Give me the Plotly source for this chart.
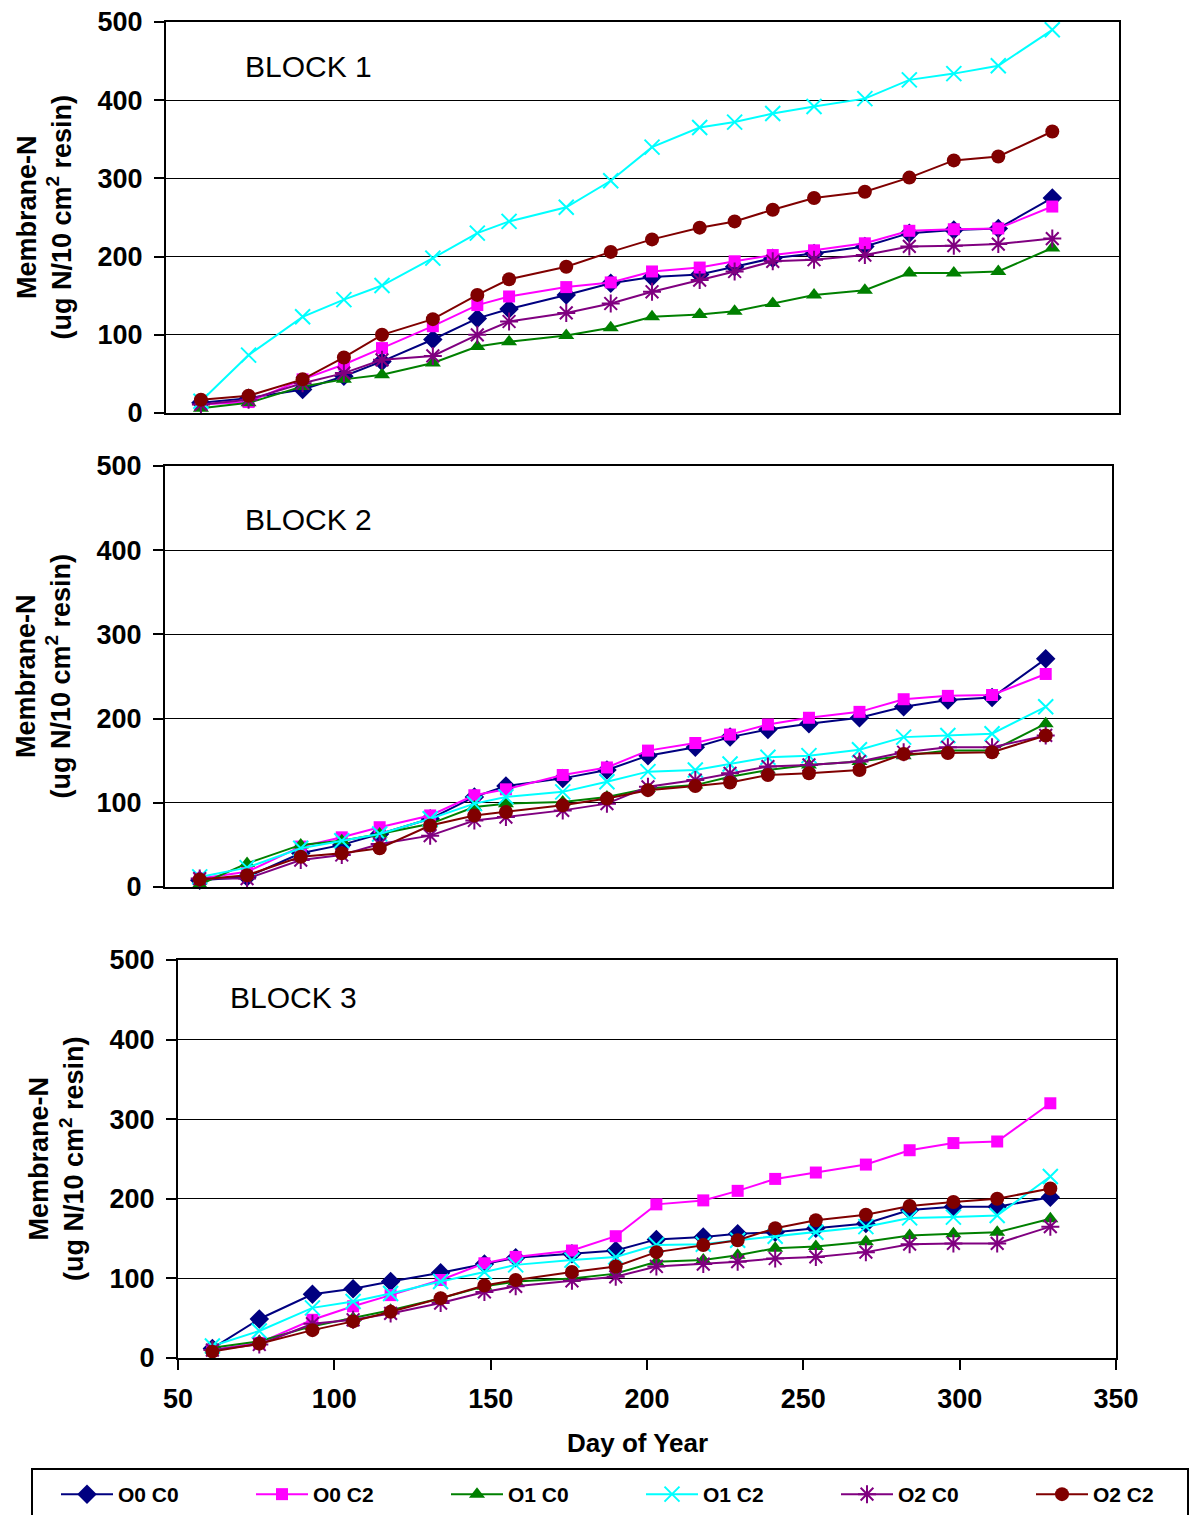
import plotly.graph_objects as go

# ---------------- data ----------------
days = [61, 76, 93, 106, 118, 134, 148, 158, 176, 190, 203, 218, 229, 241, 254, 270, 284, 298, 312, 329]

series_names = ["O0 C0", "O0 C2", "O1 C0", "O1 C2", "O2 C0", "O2 C2"]

# Block 1
b1_o0c0 = [13, 19, 30, 47, 66, 94, 121, 133, 151, 166, 174, 177, 187, 198, 204, 213, 230, 234, 236, 275]
b1_o0c2 = [11, 14, 43, 62, 83, 111, 138, 149, 161, 167, 181, 186, 194, 202, 208, 217, 233, 235, 236, 264]
b1_o1c0 = [6, 13, 34, 43, 49, 64, 85, 91, 99, 109, 123, 126, 130, 140, 151, 157, 179, 179, 181, 211]
b1_o1c2 = [15, 74, 123, 145, 163, 198, 230, 245, 263, 297, 340, 365, 372, 383, 392, 402, 426, 434, 444, 490]
b1_o2c0 = [11, 17, 38, 51, 68, 73, 100, 117, 128, 140, 155, 170, 181, 194, 196, 202, 213, 214, 216, 223]
b1_o2c2 = [17, 22, 43, 71, 100, 120, 151, 171, 187, 206, 222, 237, 245, 260, 275, 283, 301, 323, 328, 360]

# Block 2
b2_o0c0 = [8, 12, 40, 50, 63, 81, 107, 120, 129, 139, 156, 166, 178, 187, 194, 201, 214, 222, 225, 271]
b2_o0c2 = [10, 18, 48, 59, 71, 85, 109, 116, 133, 142, 162, 171, 181, 193, 201, 208, 223, 227, 228, 253]
b2_o1c0 = [3, 28, 50, 55, 63, 75, 95, 99, 101, 107, 117, 121, 131, 139, 145, 149, 156, 162, 162, 194]
b2_o1c2 = [12, 23, 46, 55, 63, 81, 99, 107, 113, 125, 137, 139, 146, 154, 156, 163, 178, 180, 182, 214]
b2_o2c0 = [10, 10, 32, 38, 51, 61, 79, 83, 91, 99, 119, 127, 135, 143, 145, 149, 160, 166, 166, 180]
b2_o2c2 = [9, 14, 36, 40, 46, 73, 85, 89, 97, 105, 115, 120, 124, 133, 135, 139, 158, 159, 160, 180]

# Block 3
b3_o0c0 = [12, 49, 80, 87, 96, 107, 118, 126, 131, 135, 149, 152, 156, 158, 163, 169, 186, 190, 190, 202]
b3_o0c2 = [10, 19, 48, 65, 79, 98, 119, 127, 135, 153, 193, 198, 210, 225, 233, 243, 261, 270, 272, 320]
b3_o1c0 = [13, 21, 40, 50, 60, 75, 90, 96, 100, 106, 121, 123, 129, 138, 140, 146, 154, 156, 158, 175]
b3_o1c2 = [15, 34, 63, 71, 81, 96, 108, 117, 123, 127, 142, 143, 148, 153, 158, 165, 176, 177, 179, 228]
b3_o2c0 = [10, 17, 43, 48, 56, 69, 83, 90, 97, 102, 115, 118, 121, 125, 127, 133, 143, 144, 144, 165]
b3_o2c2 = [8, 18, 35, 46, 58, 75, 91, 98, 108, 115, 133, 142, 148, 163, 173, 180, 191, 196, 200, 213]

blocks = [
    ("BLOCK 1", [b1_o0c0, b1_o0c2, b1_o1c0, b1_o1c2, b1_o2c0, b1_o2c2]),
    ("BLOCK 2", [b2_o0c0, b2_o0c2, b2_o1c0, b2_o1c2, b2_o2c0, b2_o2c2]),
    ("BLOCK 3", [b3_o0c0, b3_o0c2, b3_o1c0, b3_o1c2, b3_o2c0, b3_o2c2]),
]

y_ticks = [0, 100, 200, 300, 400, 500]
x_ticks = [50, 100, 150, 200, 250, 300, 350]

# ---------------- styles ----------------
colors = ["#000080", "#FF00FF", "#008000", "#00FFFF", "#800080", "#800000"]
symbols = ["diamond", "square", "triangle-up", "x-thin-open", "asterisk-open", "circle"]
sizes = [15, 12, 14, 15, 15, 14]

W, H = 1193, 1515
FONT = "Liberation Sans, Arial, sans-serif"

# pixel boxes of the three plot areas: (left, right, top, bottom)
boxes = [(166, 1119, 22, 413), (165, 1112, 466, 887), (178, 1116, 960, 1358)]
title_x = [44, 43, 56]
block_pos = [(243, 66), (243, 519), (228, 997)]

fig = go.Figure()
layout = dict(
    width=W, height=H,
    margin=dict(l=0, r=0, t=0, b=0, autoexpand=False),
    paper_bgcolor="white", plot_bgcolor="white",
    font=dict(family=FONT, color="black"),
    annotations=[],
    shapes=[],
)

for i, (label, data) in enumerate(blocks):
    n = i + 1
    xa = "x" if n == 1 else f"x{n}"
    ya = "y" if n == 1 else f"y{n}"
    l, r, t, b = boxes[i]
    for j, name in enumerate(series_names):
        fig.add_trace(go.Scatter(
            x=days, y=data[j], name=name, xaxis=xa, yaxis=ya,
            mode="lines+markers", legendgroup=name, showlegend=(n == 1),
            cliponaxis=False,
            line=dict(color=colors[j], width=2),
            marker=dict(symbol=symbols[j], size=sizes[j], color=colors[j],
                        line=dict(color=colors[j], width=2 if j in (3, 4) else 0)),
        ))
    last = (n == 3)
    layout["xaxis" if n == 1 else f"xaxis{n}"] = dict(
        domain=[l / W, r / W], anchor=ya, range=[50, 350],
        tickvals=x_ticks, showticklabels=last, ticks="outside" if last else "",
        ticklen=10, tickwidth=2, tickcolor="black", ticklabelstandoff=6,
        showgrid=False, zeroline=False, showline=True, linecolor="black",
        linewidth=2, mirror=True, automargin=False,
        tickfont=dict(family=FONT, size=27, weight="bold"),
    )
    layout["yaxis" if n == 1 else f"yaxis{n}"] = dict(
        domain=[1 - b / H, 1 - t / H], anchor=xa, range=[0, 500],
        tickvals=y_ticks, ticks="outside", ticklen=10, tickwidth=1.5, tickcolor="black",
        ticklabelstandoff=6,
        showgrid=True, gridcolor="black", gridwidth=1, zeroline=False,
        showline=True, linecolor="black", linewidth=2, mirror=True, automargin=False,
        tickfont=dict(family=FONT, size=27, weight="bold"),
    )
    bx, by = block_pos[i]
    layout["annotations"].append(dict(
        text=label, x=bx / W, y=1 - by / H, xref="paper", yref="paper",
        xanchor="left", yanchor="middle", showarrow=False,
        font=dict(family=FONT, size=30, color="black"),
    ))
    layout["annotations"].append(dict(
        text="Membrane-N<br>(ug N/10 cm<sup>2</sup> resin)",
        x=title_x[i] / W, y=1 - (t + b) / 2 / H, xref="paper", yref="paper",
        xanchor="center", yanchor="middle", textangle=-90, showarrow=False,
        font=dict(family=FONT, size=27, weight="bold", color="black"),
    ))

layout["annotations"].append(dict(
    text="Day of Year", x=637 / W, y=1 - 1443 / H, xref="paper", yref="paper",
    xanchor="center", yanchor="middle", showarrow=False,
    font=dict(family=FONT, size=26, weight="bold", color="black"),
))

# legend frame (its bottom edge lies below the page, as in the reference)
layout["shapes"].append(dict(
    type="rect", xref="paper", yref="paper",
    x0=32 / W, x1=1188 / W, y0=1 - 1530 / H, y1=1 - 1469 / H,
    line=dict(color="black", width=2), fillcolor="rgba(0,0,0,0)", layer="below",
))

layout["legend"] = dict(
    orientation="h", x=56 / W, y=1 - 1474 / H, xanchor="left", yanchor="top",
    borderwidth=0, bgcolor="rgba(0,0,0,0)",
    font=dict(family=FONT, size=21, weight="bold"),
    entrywidth=128, itemwidth=52,
)

fig.update_layout(**layout)
fig.write_html("out.html")
